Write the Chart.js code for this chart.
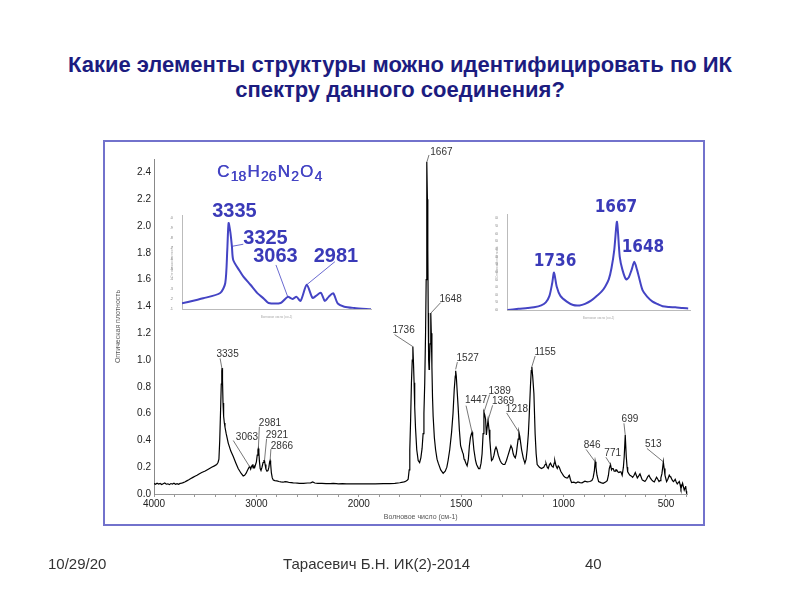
<!DOCTYPE html>
<html><head><meta charset="utf-8">
<script src="https://cdn.jsdelivr.net/npm/chart.js@4.4.1/dist/chart.umd.min.js"></script>
<style>
html,body{margin:0;padding:0;background:#fff;}
#wrap{position:relative;width:800px;height:600px;overflow:hidden;background:#fff;}
canvas{position:absolute;}
#main{left:0;top:0;}
#inL{left:165px;top:198px;}
#inR{left:492px;top:195px;}
.title{position:absolute;left:0;top:52px;width:800px;text-align:center;font-family:'Liberation Sans',Arial,sans-serif;font-weight:bold;font-size:22px;line-height:25px;color:#1c1c80;}
.foot{position:absolute;top:554px;font-family:'Liberation Sans',Arial,sans-serif;font-size:15px;color:#333;line-height:20px;white-space:nowrap;}
</style></head>
<body><div id="wrap">
<div class="title">Какие элементы структуры можно идентифицировать по ИК<br>спектру данного соединения?</div>
<canvas id="main" width="800" height="600"></canvas>
<canvas id="inL" width="215" height="125"></canvas>
<canvas id="inR" width="208" height="130"></canvas>
<div class="foot" style="left:48px">10/29/20</div>
<div class="foot" style="left:283px">Тарасевич Б.Н. ИК(2)-2014</div>
<div class="foot" style="left:585px">40</div>
</div>
<script>
// ---------- DATA ----------
const mainWave = [4000,3985,3970,3955,3940,3925,3910,3895,3880,3865,3850,3835,3820,3805,3790,3775,3760,3745,3730,3715,3700,
3680,3660,3640,3620,3600,3580,3560,3534,3500,3470,3437,3410,3388,3375,3366,3358,3350,3343,3338,3335,3331,3326,3320,3313,3307,3295,3275,3250,3226,3200,3178,3150,3129,3115,3100,3088,3078,3068,3063,3056,3048,3040,3032,3024,3016,3008,3000,2992,2985,2981,2976,2970,2963,2955,2945,2935,2926,2921,2915,2907,2897,2887,2878,2871,2866,2861,2854,2845,2835,2820,2800,2780,2760,2740,2720,2700,2680,2660,2640,2620,2600,2580,2560,2540,2500,2470,2450,2430,2400,2360,2320,2280,2250,2220,2200,2160,2120,2080,2040,2000,
1960,1920,1880,1850,1824,1800,1785,1775,1765,1759,1754,1751,1747,1743,1739,1736,1733,1730,1727,1723,1717,1710,1703,1697,1691,1686,1682,1678,1674,1671,1669,1667,1665,1663,1661,1659,1657,1655,1652,1649,1648,1646,1643,1640,1637,1631,1625,1618,1612,1600,1588,1578,1570,1564,1556,1547,1540,1534,1529,1527,1524,1519,1515,1509,1503,1497,1493,1490,1486,1482,1477,1471,1465,1460,1455,1450,1447,1444,1438,1430,1425,1415,1409,1403,1398,1393,1389,1385,1381,1377,1373,1369,1364,1360,1355,1352,1346,1340,1335,1330,1325,1319,1310,1303,1295,1287,1279,1271,1263,1257,1251,1246,1241,1236,1231,1227,1222,1218,1214,1205,1197,1189,1183,1178,1172,1168,1162,1158,1155,1151,1145,1139,1134,1129,1118,1108,1097,1090,1086,1080,1075,1069,1064,1058,1051,1046,1043,1037,1031,1026,1021,1014,1008,1000,993,986,980,975,972,967,961,950,940,930,920,910,896,885,872,862,856,850,846,842,837,829,818,807,795,787,781,777,771,766,762,758,753,749,745,741,735,730,725,720,714,708,704,699,694,690,687,681,676,670,663,656,650,645,640,633,627,621,616,610,603,595,589,583,577,570,563,557,551,546,540,534,529,525,520,516,513,509,505,500,497,491,484,480,476,470,464,459,455,450,445,440,435,431,427,423,419,415,411,407,404,401,398];
const mainAbs = [.078,.072,.080,.074,.079,.071,.077,.082,.073,.076,.070,.078,.074,.080,.073,.077,.072,.079,.081,.085,.090,
.098,.106,.115,.124,.132,.140,.150,.160,.172,.185,.200,.210,.220,.235,.260,.400,.620,.820,.920,.940,.850,.680,.580,.530,.500,.450,.380,.320,.280,.230,.190,.155,.135,.140,.155,.175,.190,.205,.200,.185,.205,.215,.195,.210,.200,.220,.240,.290,.330,.340,.310,.240,.190,.175,.200,.235,.250,.250,.220,.185,.170,.175,.200,.240,.250,.225,.160,.120,.105,.100,.098,.093,.090,.088,.092,.090,.086,.085,.083,.082,.081,.080,.080,.079,.082,.083,.090,.082,.080,.079,.078,.078,.079,.077,.076,.077,.076,.075,.075,.075,
.075,.076,.077,.078,.080,.084,.088,.092,.100,.110,.180,.330,.550,.830,1.00,1.10,.980,.830,.650,.490,.330,.250,.235,.270,.340,.450,.600,.830,1.20,1.60,1.95,2.48,2.20,1.82,1.35,1.00,.930,.970,1.12,1.30,1.35,1.20,.950,.720,.580,.420,.330,.260,.230,.180,.155,.170,.200,.250,.330,.460,.600,.780,.880,.920,.880,.750,.650,.480,.360,.330,.310,.300,.260,.250,.230,.210,.260,.360,.420,.450,.460,.430,.330,.250,.220,.190,.190,.230,.300,.450,.610,.590,.560,.440,.500,.550,.480,.400,.300,.250,.260,.290,.330,.350,.330,.290,.250,.230,.220,.220,.250,.290,.330,.360,.340,.300,.280,.270,.300,.350,.410,.460,.430,.330,.270,.230,.260,.330,.450,.580,.800,.920,.950,.880,.750,.450,.300,.220,.200,.190,.200,.220,.230,.200,.190,.220,.230,.210,.200,.230,.250,.210,.190,.210,.200,.170,.155,.135,.125,.120,.120,.135,.140,.110,.085,.088,.082,.090,.085,.083,.095,.090,.093,.100,.120,.170,.240,.200,.140,.093,.085,.080,.090,.100,.140,.190,.220,.180,.190,.190,.170,.170,.180,.180,.165,.160,.165,.165,.140,.200,.280,.440,.280,.200,.165,.150,.140,.135,.125,.140,.160,.140,.120,.135,.150,.125,.105,.100,.093,.110,.130,.140,.120,.105,.095,.090,.110,.125,.110,.093,.100,.120,.150,.200,.240,.190,.140,.110,.093,.110,.140,.130,.125,.105,.093,.100,.110,.090,.075,.085,.093,.070,.040,.060,.080,.055,.030,.045,.060,.020,.000];

const xMajorTicks = [4000, 3000, 2000, 1500, 1000, 500];
const yTickLabels = ['0.0','0.2','0.4','0.6','0.8','1.0','1.2','1.4','1.6','1.8','2.0','2.2','2.4'];

const peakText  = ['3335','3063','2981','2921','2866','1736','1667','1648','1527','1447','1389','1369','1218','1155','846','771','699','513'];
const peakWave  = [3335, 3063, 2981, 2921, 2866, 1736, 1667, 1648, 1527, 1447, 1389, 1369, 1218, 1155, 846, 771, 699, 513];
const peakAbs   = [0.93, 0.20, 0.34, 0.25, 0.25, 1.10, 2.48, 1.35, 0.93, 0.46, 0.61, 0.55, 0.46, 0.95, 0.24, 0.22, 0.44, 0.24];

// inset 1 (N-H / C-H region)
const insetLWave = [3546,3450,3373,3350,3341,3335,3327,3320,3314,3286,3268,3236,3206,3174,3154,3099,3067,3046,3027,3009,2981,2955,2939,2917,2899,2882,2861,2841,2811,2766,2690];
const insetLAbs  = [0.156,0.206,0.258,0.357,0.68,0.95,0.86,0.72,0.585,0.48,0.42,0.34,0.26,0.20,0.16,0.16,0.22,0.20,0.22,0.18,0.34,0.21,0.23,0.26,0.18,0.22,0.255,0.156,0.123,0.11,0.097];
const insetLText = ['3335','3325','3063','2981'];
const insetLPeakWave = [3335, 3320, 3067, 2981];
const insetLPeakAbs  = [0.95, 0.72, 0.22, 0.34];

// inset 2 (C=O region)
const insetRWave = [1787,1775,1765,1758,1750,1745,1741,1738,1736,1733,1729,1722,1715,1708,1702,1695,1689,1684,1680,1676,1673,1670,1667,1664,1661,1657,1654,1651,1648,1645,1643,1639,1634,1628,1622,1617,1610,1603,1595,1589];
const insetRAbs  = [0.0,0.03,0.05,0.07,0.12,0.20,0.37,0.70,0.98,0.61,0.37,0.22,0.13,0.12,0.16,0.25,0.37,0.48,0.61,0.80,1.10,1.57,2.31,1.40,1.05,0.80,0.86,1.05,1.26,1.05,0.87,0.52,0.35,0.22,0.15,0.10,0.08,0.07,0.05,0.04];
const insetRText = ['1736','1667','1648'];
const insetRPeakWave = [1736, 1667, 1648];
const insetRPeakAbs  = [0.98, 2.31, 1.26];

const formulaParts = [['C',0],['18',1],['H',0],['26',1],['N',0],['2',1],['O',0],['4',1]];

// ---------- LAYOUT / STYLE (not data) ----------
const FONT = "'Liberation Sans', Arial, sans-serif";
const BLUE = '#4444c4';
const BLUE_TXT = '#3a3ab8';
// label centre offset (tx,ty) and leader end offset (lx,ly) relative to the peak pixel
const peakLayout = [[5.5,-15.5,-2,-11],[-3,-30,-16.7,-26.7],[11.6,-25.3,1,-21.6],[12.4,-25.5,2.1,-21.7],[11.8,-14.7,0.8,-11.4],
 [-9.3,-16,-18.3,-12],[14.4,-9,2,-6.7],[19.7,-13.7,9.7,-10.4],[12,-10.7,1.7,-7.3],[4,-31.7,-6,-26.7],[15.7,-21.4,5.7,-17.7],
 [15,-19,4.6,-15],[-2,-23,-12.3,-19.4],[13.3,-14,3.3,-10.7],[-3,-16.2,-9,-12.4],[2.2,-11.2,-4.6,-7.3],[4.7,-15.3,-1.3,-11.7],[-10,-17.2,-16.4,-13.4]];
const insetLLayout = [[5.9,-11.4,null,null],[33.6,-8.1,11.4,-2.1],[-12.3,-40.2,-11.8,-31.9],[29.2,-28.1,28.2,-23.1]];
const insetRLayout = [[1,-10.6],[-1,-13.8],[8.6,-13.9]];

// ---------- piecewise (2x expanded below 2000 cm-1) axis ----------
const BREAK = 2000;
class BrokenAxis extends Chart.LinearScale {
  _u(v) { return v <= BREAK ? v : BREAK + (v - BREAK) / 2; }
  _ui(u) { return u <= BREAK ? u : BREAK + (u - BREAK) * 2; }
  getPixelForValue(value) {
    const a = this._u(this.min), b = this._u(this.max);
    return this.getPixelForDecimal((this._u(value) - a) / (b - a));
  }
  getValueForPixel(pixel) {
    const a = this._u(this.min), b = this._u(this.max);
    return this._ui(a + this.getDecimalForPixel(pixel) * (b - a));
  }
}
BrokenAxis.id = 'broken';
BrokenAxis.defaults = Chart.LinearScale.defaults;
Chart.register(BrokenAxis);

Chart.defaults.font.family = FONT;
Chart.defaults.animation = false;

const xTickValues = [];
for (let v = 4000; v > 2000; v -= 200) xTickValues.push(v);
for (let v = 2000; v >= 400; v -= 100) xTickValues.push(v);

const mainDecor = {
  id: 'mainDecor',
  beforeDraw(chart) {
    const ctx = chart.ctx;
    ctx.save();
    ctx.strokeStyle = '#7272cc';
    ctx.lineWidth = 2;
    ctx.strokeRect(104, 141, 600, 384);
    ctx.restore();
  },
  afterDatasetsDraw(chart) {
    const ctx = chart.ctx, xs = chart.scales.x, ys = chart.scales.y;
    ctx.save();
    ctx.font = '10px ' + FONT;
    ctx.textAlign = 'center';
    ctx.textBaseline = 'middle';
    ctx.strokeStyle = '#555';
    ctx.lineWidth = 0.8;
    ctx.fillStyle = '#333';
    peakText.forEach((t, i) => {
      const px = xs.getPixelForValue(peakWave[i]);
      const py = ys.getPixelForValue(peakAbs[i]);
      const L = peakLayout[i];
      ctx.beginPath();
      ctx.moveTo(px, py);
      ctx.lineTo(px + L[2], py + L[3]);
      ctx.stroke();
      ctx.fillText(t, px + L[0], py + L[1]);
    });
    // formula
    ctx.fillStyle = BLUE;
    ctx.textAlign = 'left';
    ctx.textBaseline = 'alphabetic';
    let x = 217;
    formulaParts.forEach(([s, sub]) => {
      ctx.font = (sub ? '14px ' : '17px ') + FONT;
      ctx.fillText(s, x, sub ? 181 : 177);
      ctx.fillText(s, x + 0.4, sub ? 181 : 177);
      x += ctx.measureText(s).width + 1.2;
    });
    ctx.restore();
  }
};

new Chart(document.getElementById('main'), {
  type: 'line',
  data: {
    datasets: [{
      data: mainWave.map((w, i) => ({x: w, y: mainAbs[i]})),
      borderColor: '#000',
      borderWidth: 1.2,
      pointRadius: 0,
      tension: 0,
      fill: false
    }]
  },
  options: {
    responsive: false,
    animation: false,
    layout: {padding: {left: 114, right: 112.5, top: 159, bottom: 76}},
    plugins: {legend: {display: false}, tooltip: {enabled: false}},
    scales: {
      x: {
        type: 'broken', min: 395, max: 4000, reverse: true,
        afterBuildTicks: s => { s.ticks = xTickValues.map(v => ({value: v})); },
        afterFit: s => { s.height = 30; },
        grid: {display: true, drawOnChartArea: false, drawTicks: true, tickLength: 3, color: '#999'},
        border: {display: true, color: '#999', width: 1},
        ticks: {autoSkip: false, maxRotation: 0, padding: 1, color: '#222', font: {size: 10},
          callback: v => xMajorTicks.includes(v) ? String(v) : ''},
        title: {display: true, text: 'Волновое число (см-1)', color: '#555', font: {size: 7}, padding: {top: 0, bottom: 3}}
      },
      y: {
        type: 'linear', min: 0, max: 2.5,
        afterBuildTicks: s => { s.ticks = yTickLabels.map(t => ({value: parseFloat(t)})); },
        afterFit: s => { s.width = 40; },
        grid: {display: true, drawOnChartArea: false, drawTicks: false},
        border: {display: true, color: '#888', width: 1, dash: [1, 2]},
        ticks: {padding: 3, color: '#222', font: {size: 10}, callback: (v, i) => yTickLabels[i]},
        title: {display: true, text: 'Оптическая плотность', color: '#555', font: {size: 7}, padding: {top: 0, bottom: 0}}
      }
    }
  },
  plugins: [mainDecor]
});

// ---------- insets ----------
function insetScales(xmin, xmax, xstep, ymin, ymax, ystep, ydec) {
  return {
    x: {
      type: 'linear', min: xmin, max: xmax, reverse: true,
      afterFit: s => { s.height = 10; },
      grid: {display: false},
      border: {display: true, color: '#bbb', width: 1},
      ticks: {stepSize: xstep, includeBounds: false, autoSkip: false, maxRotation: 0, padding: 1, color: '#888', font: {size: 4}},
      title: {display: true, text: 'Волновое число (см-1)', color: '#aaa', font: {size: 3}, padding: 0}
    },
    y: {
      type: 'linear', min: ymin, max: ymax,
      afterFit: s => { s.width = 12; },
      grid: {display: false},
      border: {display: true, color: '#bbb', width: 1},
      ticks: {stepSize: ystep, includeBounds: false, padding: 1, color: '#888', font: {size: 4},
        callback: v => v.toFixed(ydec)},
      title: {display: true, text: 'Оптическая плотность', color: '#aaa', font: {size: 3}, padding: 0}
    }
  };
}

const insetLDecor = {
  id: 'insetLDecor',
  afterDatasetsDraw(chart) {
    const ctx = chart.ctx, xs = chart.scales.x, ys = chart.scales.y;
    ctx.save();
    ctx.font = 'bold 20px ' + FONT;
    ctx.textAlign = 'center';
    ctx.textBaseline = 'middle';
    ctx.strokeStyle = BLUE;
    ctx.lineWidth = 0.8;
    ctx.fillStyle = BLUE_TXT;
    insetLText.forEach((t, i) => {
      const px = xs.getPixelForValue(insetLPeakWave[i]);
      const py = ys.getPixelForValue(insetLPeakAbs[i]);
      const L = insetLLayout[i];
      if (L[2] !== null) {
        ctx.beginPath(); ctx.moveTo(px, py); ctx.lineTo(px + L[2], py + L[3]); ctx.stroke();
      }
      ctx.fillText(t, px + L[0], py + L[1]);
    });
    ctx.restore();
  }
};
const insetRDecor = {
  id: 'insetRDecor',
  afterDatasetsDraw(chart) {
    const ctx = chart.ctx, xs = chart.scales.x, ys = chart.scales.y;
    ctx.save();
    ctx.font = "bold 17px 'Liberation Sans Narrow', 'DejaVu Sans Condensed', sans-serif";
    ctx.textAlign = 'center';
    ctx.textBaseline = 'middle';
    ctx.fillStyle = BLUE_TXT;
    insetRText.forEach((t, i) => {
      const px = xs.getPixelForValue(insetRPeakWave[i]);
      const py = ys.getPixelForValue(insetRPeakAbs[i]);
      const L = insetRLayout[i];
      ctx.fillText(t, px + L[0], py + L[1]);
    });
    ctx.restore();
  }
};

new Chart(document.getElementById('inL'), {
  type: 'line',
  data: {datasets: [{data: insetLWave.map((w, i) => ({x: w, y: insetLAbs[i]})), borderColor: BLUE, borderWidth: 2, pointRadius: 0, tension: 0.25}]},
  options: {
    responsive: false, animation: false,
    layout: {padding: {left: 5, right: 9, top: 17, bottom: 4}},
    plugins: {legend: {display: false}, tooltip: {enabled: false}},
    scales: insetScales(2690, 3546, 100, 0.1, 1.03, 0.1, 1)
  },
  plugins: [insetLDecor]
});

new Chart(document.getElementById('inR'), {
  type: 'line',
  data: {datasets: [{data: insetRWave.map((w, i) => ({x: w, y: insetRAbs[i]})), borderColor: BLUE, borderWidth: 2, pointRadius: 0, tension: 0.25}]},
  options: {
    responsive: false, animation: false,
    layout: {padding: {left: 3, right: 10, top: 19.5, bottom: 5}},
    plugins: {legend: {display: false}, tooltip: {enabled: false}},
    scales: insetScales(1587, 1787.5, 50, 0, 2.5, 0.2, 2)
  },
  plugins: [insetRDecor]
});
</script>
</body></html>
